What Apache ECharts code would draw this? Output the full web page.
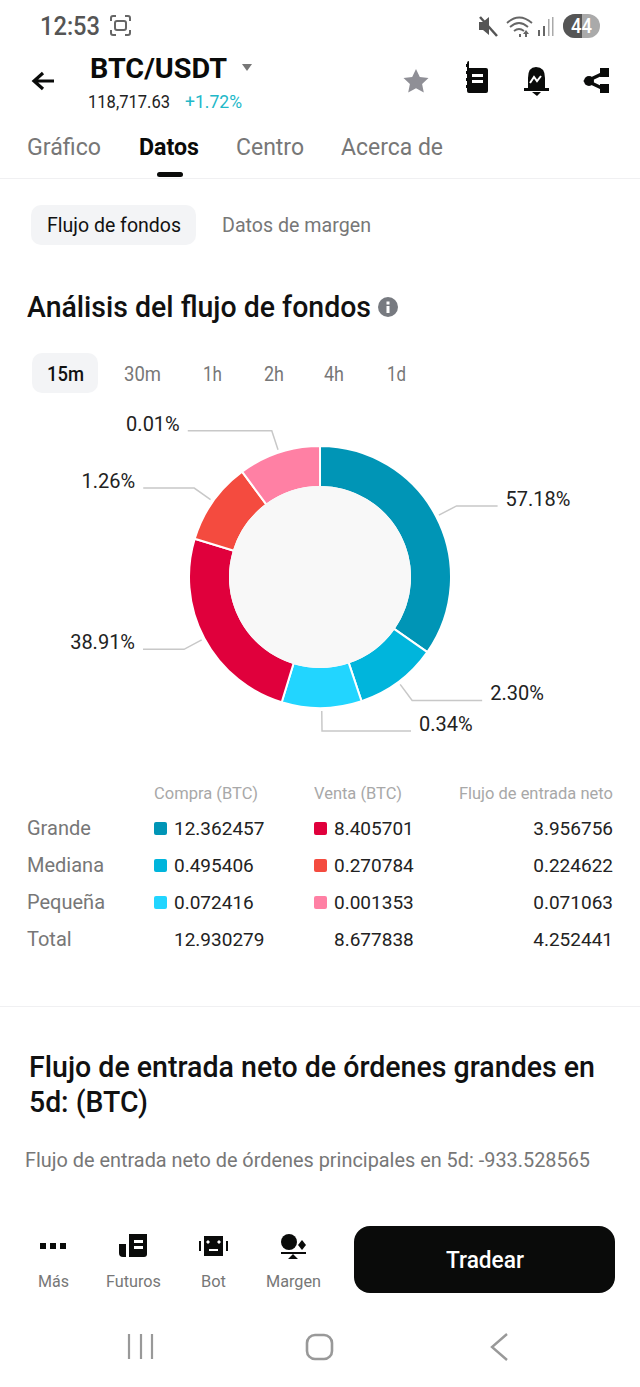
<!DOCTYPE html>
<html>
<head>
<meta charset="utf-8">
<title>BTC/USDT</title>
<script src="https://cdn.jsdelivr.net/npm/echarts@6/dist/echarts.min.js"></script>
<style>
html, body { margin: 0; padding: 0; background: #fff; }
#page { position: relative; width: 640px; height: 1387px; overflow: hidden; font-family: Roboto, sans-serif; }
#page > * { position: absolute; }
.t { white-space: nowrap; line-height: 1; }
#donut { left: 0; top: 400px; width: 640px; height: 360px; }
</style>
</head>
<body>
<div id="page">
  <div style="left:0;top:178px;width:640px;height:1px;background:#f0f0f2"></div>
  <div style="left:157px;top:172px;width:26px;height:5px;border-radius:3px;background:#0a0b0a"></div>
  <div style="left:31px;top:205px;width:165px;height:40px;border-radius:10px;background:#f3f4f6"></div>
  <div style="left:32px;top:353px;width:66px;height:40px;border-radius:10px;background:#f3f4f6"></div>
  <div style="left:0;top:1006px;width:640px;height:1px;background:#f0f0f2"></div>
  <div style="left:354px;top:1226px;width:261px;height:67px;border-radius:16px;background:#0a0b0a"></div>
  <div id="donut"></div>

  <!-- status bar -->
  <svg style="left:0;top:0" width="640" height="50">
    <g fill="none" stroke="#666" stroke-width="2">
      <path d="M111 21v-3q0-2 2-2h3M125 16h3q2 0 2 2v3M130 30v3q0 2-2 2h-3M116 35h-3q-2 0-2-2v-3"/>
      <rect x="115" y="21" width="11" height="9" rx="2"/>
    </g>
    <path d="M479 22h4l6-5v18l-6-5h-4z" fill="#555"/>
    <path d="M480 17l17 19" stroke="#555" stroke-width="2.5"/>
    <g fill="none" stroke="#666" stroke-width="1.8">
      <path d="M507 23q12-11 25 0M510 27q9-8 18 0M514 31q5-4 10 0"/>
    </g>
    <path d="M519 34h2v3h-2zM526 30l3 4h-2v3h-2v-3h-2z" fill="#666"/>
    <path d="M538 30h2v6h-2zM543 26h2v10h-2z" fill="#666"/>
    <path d="M548 19h1.500v17h-1.500zM552 17h1.500v19h-1.500z" fill="#aaa"/>
    <rect x="563" y="14" width="37" height="24" rx="12" fill="#aaa"/>
    <path d="M575 14h7v24h-7a12 12 0 0 1 0-24z" fill="#555"/>
  </svg>

  <!-- header icons -->
  <svg style="left:0;top:50px" width="640" height="60" viewBox="0 50 640 60">
    <path d="M54 81H35M43 73l-9 8 9 8" fill="none" stroke="#0a0b0a" stroke-width="3.200"/>
    <path d="M242 64h10l-5 7z" fill="#777"/>
    <path d="M416 69l3.800 8 8.700 1-6.400 6 1.700 8.600-7.800-4.300-7.800 4.300 1.700-8.600-6.400-6 8.700-1z" fill="#8f8f96"/>
    <path d="M469 68h17q2 0 2 2v21q0 2-2 2h-17q-2 0-2-2v-3h-1v-3h1v-4h-1v-3h1v-4h-1v-3h1v-4h-1v-3h1v-1q0-2 2-2z" fill="#0a0b0a"/>
    <path d="M472 74h11v3h-11zM472 80h11v3h-11z" fill="#fff"/>
    <path d="M536 67q9 0 9 11v10h4v3h-25v-3h4V78q0-11 8-11z" fill="#0a0b0a"/>
    <path d="M532 92h9l-4 4z" fill="#0a0b0a"/>
    <path d="M530 83l4-6 3 4 4-5" fill="none" stroke="#fff" stroke-width="2"/>
    <path d="M606 72l-19 9 19 9" fill="none" stroke="#0a0b0a" stroke-width="3.500"/>
    <path d="M600 68h9v9h-9zM600 84h9v9h-9z" fill="#0a0b0a"/>
    <circle cx="589" cy="81" r="5" fill="#0a0b0a"/>
  </svg>

  <!-- info icon -->
  <svg style="left:378px;top:297px" width="20" height="20">
    <circle cx="10" cy="10" r="10" fill="#777a80"/>
    <rect x="8.500" y="9" width="3" height="7" fill="#fff"/>
    <rect x="8.500" y="4.500" width="3" height="3" fill="#fff"/>
  </svg>

  <!-- bottom bar icons -->
  <svg style="left:0;top:1220px" width="640" height="167" viewBox="0 1220 640 167">
    <path d="M40 1243h6v6h-6zM50 1243h6v6h-6zM60 1243h6v6h-6z" fill="#0a0b0a"/>
    <path d="M129 1234h18v20q0 3-3 3h-15z" fill="#0a0b0a"/>
    <path d="M119 1244h7v13h-3q-4 0-4-4z" fill="#0a0b0a"/>
    <path d="M134 1240h9v3h-9zM134 1246h9v3h-9z" fill="#fff"/>
    <rect x="204" y="1236" width="19" height="20" fill="#0a0b0a"/>
    <path d="M199 1241h2v10h-2zM226 1241h2v10h-2z" fill="#0a0b0a"/>
    <path d="M208 1240l2 2-2 2-2-2zM219 1240l2 2-2 2-2-2zM209 1249h9v2h-9z" fill="#fff"/>
    <ellipse cx="289" cy="1242" rx="8" ry="8" fill="#0a0b0a"/>
    <path d="M302 1240l4 5-4 5-4-5z" fill="#0a0b0a"/>
    <path d="M281 1252h25v2h-25zM293 1254l5 5h-10z" fill="#0a0b0a"/>
    <path d="M129 1334v25M141 1334v25M152 1334v25" stroke="#999" stroke-width="2.200"/>
    <rect x="307" y="1335" width="25" height="24" rx="8" fill="none" stroke="#999" stroke-width="2.600"/>
    <path d="M507 1334l-15 13 15 13" fill="none" stroke="#999" stroke-width="2.400"/>
  </svg>
</div>

<script>
// donut: percent labels and the share of the ring each slice takes in the picture
var sharePercents = ["57.18%", "2.30%", "0.34%", "38.91%", "1.26%", "0.01%"];
var sliceShares = [125, 36.5, 35.5, 90, 36.5, 36.5];
var sliceColors = ["#0095b6", "#00b5dc", "#22d5ff", "#e0003c", "#f44b3f", "#ff80a4"];
var leaderTail = [41, 70, 89, 41, 51, 84];

// table under the donut
var sizeNames = ["Grande", "Mediana", "Pequeña", "Total"];
var buyValues = ["12.362457", "0.495406", "0.072416", "12.930279"];
var sellValues = ["8.405701", "0.270784", "0.001353", "8.677838"];
var netValues = ["3.956756", "0.224622", "0.071063", "4.252441"];
var tableHeads = ["Compra (BTC)", "Venta (BTC)", "Flujo de entrada neto"];

var page = document.getElementById("page");

// x is the left edge, or the right edge when right is set; y is the text middle.
// width squeezes the text to the width it has in the screenshot
function addText(text, x, y, size, color, weight, right, width) {
    var el = document.createElement("div");
    el.className = "t";
    el.textContent = text;
    el.style.top = (y - size / 2) + "px";
    el.style.fontSize = size + "px";
    el.style.color = color;
    el.style.fontWeight = weight || 400;
    if (right) {
        el.style.right = (640 - x) + "px";
    } else {
        el.style.left = x + "px";
    }
    page.appendChild(el);
    if (width) {
        el.style.transformOrigin = right ? "right center" : "left center";
        el.style.transform = "scaleX(" + (width / el.getBoundingClientRect().width) + ")";
    }
}

function addSwatch(x, y, color) {
    var el = document.createElement("div");
    el.style.cssText = "left:" + x + "px;top:" + (y - 6.5) + "px;width:13px;height:13px;border-radius:2px;background:" + color;
    page.appendChild(el);
}

addText("12:53", 40, 26, 25, "#555", 500, false, 60);
addText("44", 571, 26, 21, "#fff", 500, false, 21);
addText("BTC/USDT", 90, 69, 28, "#0a0b0a", 700, false, 137);
addText("118,717.63", 88, 102, 18, "#222", 400, false, 82);
addText("+1.72%", 185, 102, 18, "#22b8c8", 400, false, 57);
addText("Gráfico", 27, 147, 24, "#777", 400, false, 74);
addText("Datos", 139, 147, 24, "#0a0b0a", 700, false, 60);
addText("Centro", 236, 147, 24, "#777", 400, false, 68);
addText("Acerca de", 341, 147, 24, "#777", 400, false, 102);
addText("Flujo de fondos", 47, 225, 21, "#111", 400, false, 134);
addText("Datos de margen", 222, 225, 21, "#777", 400, false, 149);
addText("Análisis del flujo de fondos", 27, 307, 29, "#111", 500, false, 344);
addText("15m", 47, 374, 21, "#111", 500, false, 37);
addText("30m", 124, 374, 21, "#777", 400, false, 37);
addText("1h", 203, 374, 21, "#777", 400, false, 19);
addText("2h", 264, 374, 21, "#777", 400, false, 20);
addText("4h", 324, 374, 21, "#777", 400, false, 20);
addText("1d", 387, 374, 21, "#777", 400, false, 19);

addText(tableHeads[0], 154, 793, 17, "#a8a8a8", 400, false, 104);
addText(tableHeads[1], 314, 793, 17, "#a8a8a8", 400, false, 88);
addText(tableHeads[2], 613, 793, 17, "#a8a8a8", 400, true, 154);
var rowY = [828, 865, 902, 939];
for (var i = 0; i < sizeNames.length; i++) {
    addText(sizeNames[i], 27, rowY[i], 20, "#777");
    addText(buyValues[i], 174, rowY[i], 19, "#222");
    addText(sellValues[i], 334, rowY[i], 19, "#222");
    addText(netValues[i], 613, rowY[i], 19, "#222", 400, true);
    if (i < 3) {
        addSwatch(154, rowY[i], sliceColors[i]);
        addSwatch(314, rowY[i], sliceColors[i + 3]);
    }
}

addText("Flujo de entrada neto de órdenes grandes en", 29, 1067, 29, "#111", 500, false, 566);
addText("5d: (BTC)", 29, 1102, 29, "#111", 500, false, 119);
addText("Flujo de entrada neto de órdenes principales en 5d: -933.528565", 25, 1160, 20, "#777", 400, false, 565);

addText("Más", 38, 1281, 17, "#777", 400, false, 31);
addText("Futuros", 106, 1281, 17, "#777", 400, false, 55);
addText("Bot", 201, 1281, 17, "#777", 400, false, 25);
addText("Margen", 266, 1281, 17, "#777", 400, false, 55);
addText("Tradear", 446, 1260, 23, "#fff", 500, false, 78);

var ringData = [];
var labelData = [];
for (var k = 0; k < sliceShares.length; k++) {
    ringData.push({ name: sharePercents[k], value: sliceShares[k], itemStyle: { color: sliceColors[k] } });
    labelData.push({ name: sharePercents[k], value: sliceShares[k], labelLine: { length: 20, length2: leaderTail[k] } });
}

var myChart = echarts.init(document.getElementById("donut"), null, { renderer: "svg" });
myChart.setOption({
    animation: false,
    textStyle: { fontFamily: "Roboto" },
    series: [
        {
            // the ring
            type: "pie",
            center: [320, 177],
            radius: [90, 131],
            silent: true,
            label: { show: false },
            labelLine: { show: false },
            itemStyle: { borderColor: "#fff", borderWidth: 2 },
            data: ringData
        },
        {
            // invisible pie a little wider than the ring: leader lines start clear of it
            type: "pie",
            center: [320, 177],
            radius: [0, 134],
            silent: true,
            avoidLabelOverlap: false,
            itemStyle: { color: "transparent" },
            label: {
                show: true,
                // empty second line lifts the text above its leader line
                formatter: "{b}\n ",
                fontSize: 20,
                lineHeight: 14,
                fontFamily: "Roboto",
                color: "#222",
                distanceToLabelLine: 8
            },
            labelLine: {
                show: true,
                smooth: false,
                lineStyle: { color: "#c8c8c8", width: 1.5 }
            },
            data: labelData
        },
        {
            // pale disc inside the ring
            type: "pie",
            center: [320, 177],
            radius: [0, 91],
            silent: true,
            label: { show: false },
            labelLine: { show: false },
            itemStyle: { color: "#f8f8f8" },
            data: [{ name: "centro", value: 1 }]
        }
    ]
});
</script>
</body>
</html>
